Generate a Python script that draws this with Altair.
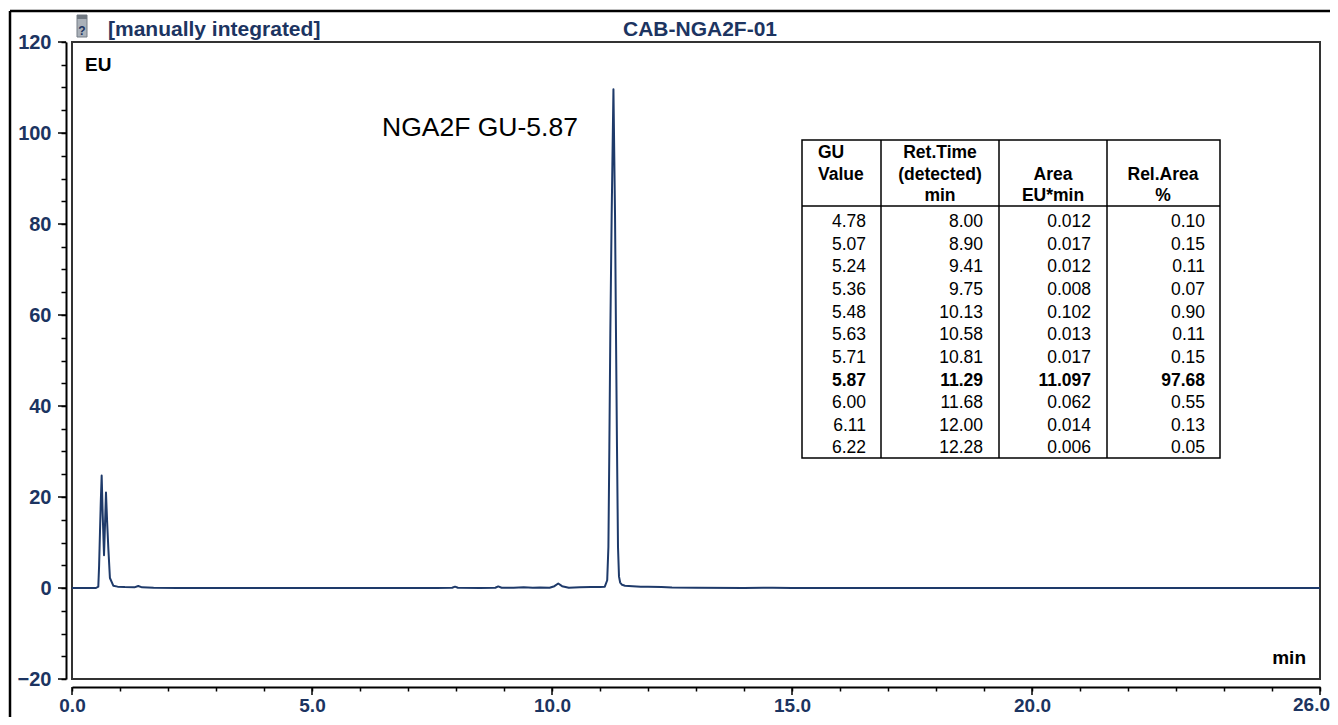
import altair as alt
import pandas as pd

# ---------------- data ----------------
# chromatogram trace: retention time (min) and signal (EU)
times = [0.0, 0.50, 0.548, 0.565, 0.583, 0.600, 0.618, 0.640, 0.667, 0.688,
         0.708, 0.730, 0.757, 0.790, 0.860, 0.950, 1.10, 1.30, 1.38, 1.46,
         1.70, 2.20, 4.00, 6.00, 7.60, 7.92, 7.98, 8.04, 8.50, 8.82,
         8.88, 8.95, 9.20, 9.41, 9.60, 9.75, 9.95, 10.05, 10.13, 10.21,
         10.35, 10.58, 10.81, 11.00, 11.10, 11.15, 11.175, 11.195, 11.215, 11.243,
         11.280, 11.313, 11.333, 11.354, 11.375, 11.396, 11.42, 11.46, 11.52, 11.60,
         11.68, 11.85, 12.00, 12.28, 12.50, 13.00, 14.00, 14.40, 14.60, 15.00,
         18.00, 22.00, 26.00]
signal = [0.0, 0.0, 0.3, 5.0, 12.3, 19.0, 24.7, 16.0, 7.2, 14.0,
          21.0, 15.0, 8.7, 2.2, 0.5, 0.3, 0.2, 0.15, 0.45, 0.15,
          0.05, 0.0, 0.0, 0.0, 0.0, 0.05, 0.3, 0.05, 0.0, 0.05,
          0.35, 0.05, 0.05, 0.15, 0.05, 0.12, 0.05, 0.4, 1.0, 0.4,
          0.05, 0.15, 0.2, 0.2, 0.3, 1.7, 9.0, 31.0, 56.0, 82.0,
          109.6, 82.0, 56.0, 31.0, 9.0, 2.5, 1.2, 0.7, 0.5, 0.45,
          0.4, 0.3, 0.3, 0.2, 0.1, 0.05, 0.0, 0.08, 0.08, 0.0,
          0.0, 0.0, 0.0]

# peak table
gu_value = ["4.78", "5.07", "5.24", "5.36", "5.48", "5.63", "5.71", "5.87", "6.00", "6.11", "6.22"]
ret_time = ["8.00", "8.90", "9.41", "9.75", "10.13", "10.58", "10.81", "11.29", "11.68", "12.00", "12.28"]
area = ["0.012", "0.017", "0.012", "0.008", "0.102", "0.013", "0.017", "11.097", "0.062", "0.014", "0.006"]
rel_area = ["0.10", "0.15", "0.11", "0.07", "0.90", "0.11", "0.15", "97.68", "0.55", "0.13", "0.05"]
main_row = 7
header_gu = ["GU", "Value"]
header_rt = ["Ret.Time", "(detected)", "min"]
header_area = ["Area", "EU*min"]
header_rel = ["Rel.Area", "%"]

# axes
x_tick_values = list(range(0, 27))
x_labelled = [0, 5, 10, 15, 20]
x_end_label = [26]
y_tick_values = list(range(-20, 121, 5))
y_labelled = [-20, 0, 20, 40, 60, 80, 100, 120]

title_left = "[manually integrated]"
title_center = "CAB-NGA2F-01"
peak_label = "NGA2F GU-5.87"
y_unit = "EU"
x_unit = "min"

# ---------------- styling ----------------
FONT = "Liberation Sans, Arial, Helvetica, sans-serif"
NAVY = "#1c3461"
TRACE = "#1e3a6a"
W, H = 1248, 637
X_OFF = 8
X_TICK = 4
X_LPAD = 5

trace_df = pd.DataFrame({"t": times, "s": signal})
one = pd.DataFrame({"k": [0]})

x_scale = alt.Scale(domain=[0, 26], nice=False, zero=False)
y_scale = alt.Scale(domain=[-20, 120], nice=False, zero=False)

x_axis = alt.Axis(
    values=x_tick_values,
    labelExpr=f"indexof({x_labelled}, datum.value) >= 0 ? format(datum.value, '.1f') : ''",
    title=None, grid=False, offset=X_OFF,
    domainColor="black", domainWidth=2,
    tickColor="black", tickWidth=1.5, tickSize=X_TICK,
    labelFont=FONT, labelFontSize=19, labelFontWeight="bold", labelColor=NAVY,
    labelPadding=X_LPAD, labelFlush=False, labelOverlap=False,
)
y_axis = alt.Axis(
    values=y_tick_values,
    labelExpr=f"indexof({y_labelled}, datum.value) >= 0 ? format(datum.value, 'd') : ''",
    title=None, grid=False, offset=6,
    domainColor="black", domainWidth=2,
    tickColor="black", tickWidth=1.5, tickSize=5,
    labelFont=FONT, labelFontSize=20, labelFontWeight="bold", labelColor=NAVY,
    labelPadding=10, labelFlush=False, labelOverlap=False,
)

line = alt.Chart(trace_df).mark_line(color=TRACE, strokeWidth=2, strokeJoin="round").encode(
    x=alt.X("t:Q", scale=x_scale, axis=x_axis),
    y=alt.Y("s:Q", scale=y_scale, axis=y_axis),
)

x_major = alt.Chart(pd.DataFrame({"v": x_labelled + x_end_label})).mark_rule(
    color="black", strokeWidth=1.5
).encode(x=alt.X("v:Q", scale=x_scale, axis=x_axis), y=alt.value(H + X_OFF), y2=alt.value(H + X_OFF + 8))
y_major = alt.Chart(pd.DataFrame({"v": y_labelled})).mark_rule(
    color="black", strokeWidth=1.5
).encode(y=alt.Y("v:Q", scale=y_scale, axis=y_axis), x=alt.value(-14), x2=alt.value(-6))
x_end = alt.Chart(pd.DataFrame({"v": x_end_label})).mark_text(
    font=FONT, fontSize=19, fontWeight="bold", color=NAVY, align="right", baseline="top", dx=10
).encode(
    x=alt.X("v:Q", scale=x_scale, axis=x_axis),
    text=alt.Text("v:Q", format=".1f"),
    y=alt.value(H + X_OFF + X_TICK + X_LPAD),
)

# outer frame
outer_top = alt.Chart(one).mark_rule(color="black", strokeWidth=2.5).encode(
    x=alt.value(-62), x2=alt.value(1270), y=alt.value(-31))
outer_left = alt.Chart(one).mark_rule(color="black", strokeWidth=2.5).encode(
    x=alt.value(-62), y=alt.value(-31), y2=alt.value(700))

# header
icon = alt.Chart(one).mark_rect(fill="#aab1b9", stroke="#757d86", strokeWidth=1).encode(
    x=alt.value(5), x2=alt.value(15), y=alt.value(-27), y2=alt.value(-5))
icon_top = alt.Chart(one).mark_rect(fill="#6f7780").encode(
    x=alt.value(5), x2=alt.value(15), y=alt.value(-27), y2=alt.value(-23))
icon_q = alt.Chart(pd.DataFrame({"txt": ["?"]})).mark_text(
    font=FONT, fontSize=12, fontWeight="bold", color=NAVY, align="center", baseline="alphabetic"
).encode(text="txt:N", x=alt.value(10), y=alt.value(-7))

hdr_left = alt.Chart(pd.DataFrame({"txt": [title_left]})).mark_text(
    font=FONT, fontSize=21, fontWeight="bold", color=NAVY, align="left", baseline="alphabetic"
).encode(text="txt:N", x=alt.value(36), y=alt.value(-6))
hdr_center = alt.Chart(pd.DataFrame({"txt": [title_center]})).mark_text(
    font=FONT, fontSize=21, fontWeight="bold", color=NAVY, align="center", baseline="alphabetic"
).encode(text="txt:N", x=alt.value(628), y=alt.value(-6))

eu_text = alt.Chart(pd.DataFrame({"txt": [y_unit]})).mark_text(
    font=FONT, fontSize=19, fontWeight="bold", color="black", align="left", baseline="alphabetic"
).encode(text="txt:N", x=alt.value(13), y=alt.value(29))
min_text = alt.Chart(pd.DataFrame({"txt": [x_unit]})).mark_text(
    font=FONT, fontSize=19, fontWeight="bold", color="black", align="right", baseline="alphabetic"
).encode(text="txt:N", x=alt.value(1234), y=alt.value(H - 15))

peak_text = alt.Chart(pd.DataFrame({"txt": [peak_label]})).mark_text(
    font=FONT, fontSize=26.5, color="black", align="left", baseline="alphabetic"
).encode(text="txt:N", x=alt.value(310), y=alt.value(94))

# table
T_L, T_R, T_T, T_B, T_H = 730, 1148, 98, 416, 164
col_lines = [809, 927, 1035]
tbl_box = alt.Chart(one).mark_rect(fill="white", stroke="black", strokeWidth=1.5).encode(
    x=alt.value(T_L), x2=alt.value(T_R), y=alt.value(T_T), y2=alt.value(T_B))
tbl_layers = [tbl_box]
for cx in col_lines:
    tbl_layers.append(alt.Chart(one).mark_rule(color="black", strokeWidth=1.5).encode(
        x=alt.value(cx), y=alt.value(T_T), y2=alt.value(T_B)))
tbl_layers.append(alt.Chart(one).mark_rule(color="black", strokeWidth=1.5).encode(
    x=alt.value(T_L), x2=alt.value(T_R), y=alt.value(T_H)))

ROW0, ROW_H, TFS = 185.3, 22.6, 17.5
for values, rx in [(gu_value, 794), (ret_time, 911), (area, 1019), (rel_area, 1133)]:
    before = "\n".join(values[:main_row])
    after = "\n".join(values[main_row + 1:])
    for txt, r0, weight in [(before, 0, "normal"), (values[main_row], main_row, "bold"),
                            (after, main_row + 1, "normal")]:
        tbl_layers.append(alt.Chart(pd.DataFrame({"txt": [txt]})).mark_text(
            font=FONT, fontSize=TFS, fontWeight=weight, color="black", align="right",
            baseline="alphabetic", lineBreak="\n", lineHeight=ROW_H
        ).encode(text="txt:N", x=alt.value(rx), y=alt.value(ROW0 + r0 * ROW_H)))

for lines, hx, align, hy in [(header_gu, 746, "left", 116), (header_rt, 868, "center", 116),
                             (header_area, 981, "center", 137.5), (header_rel, 1091, "center", 137.5)]:
    tbl_layers.append(alt.Chart(pd.DataFrame({"txt": ["\n".join(lines)]})).mark_text(
        font=FONT, fontSize=TFS, fontWeight="bold", color="black", align=align, baseline="alphabetic",
        lineBreak="\n", lineHeight=21.5
    ).encode(text="txt:N", x=alt.value(hx), y=alt.value(hy)))

chart = alt.layer(
    outer_top, outer_left, icon, icon_top, icon_q, hdr_left, hdr_center,
    line, x_major, y_major, x_end, eu_text, min_text, peak_text, *tbl_layers
).properties(
    width=W, height=H,
    autosize=alt.AutoSizeParams(type="none"),
    padding={"left": 64, "top": 34, "right": 10, "bottom": 38},
    background="white",
).configure_view(stroke="#333333", strokeWidth=2)

chart.save("out.html", embed_options={"renderer": "svg", "actions": False})
